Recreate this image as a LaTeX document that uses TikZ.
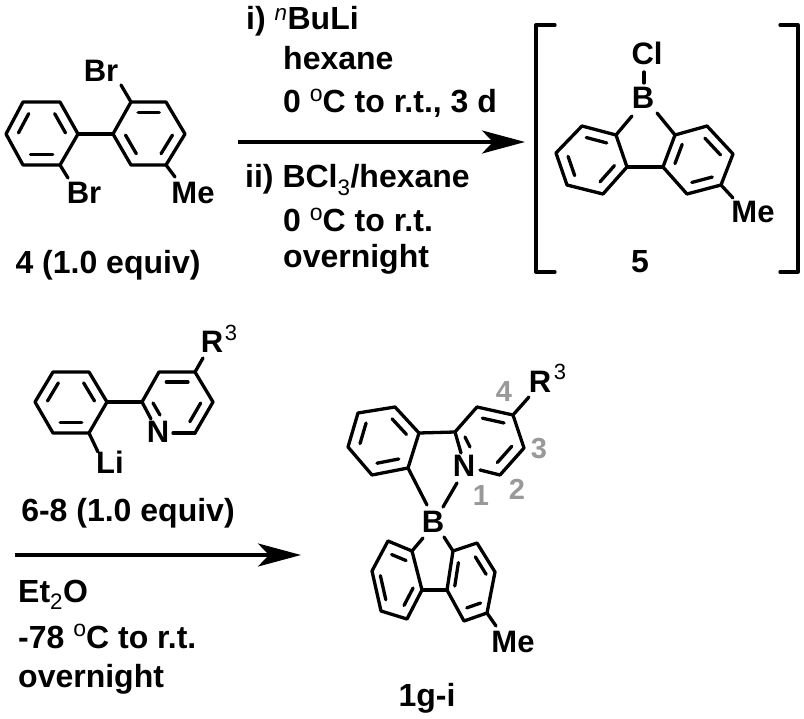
\documentclass[tikz,border=0pt]{standalone}
\usepackage{fontspec}
\setmainfont{Liberation Sans}
\usetikzlibrary{calc,arrows.meta}
\definecolor{numgray}{gray}{0.6}
\tikzset{
  bond/.style={line width=3.3pt,line cap=round,line join=round,black},
  atom/.style={font=\fontsize{31}{31}\selectfont\bfseries,inner sep=0pt,anchor=center},
  sup3/.style={font=\fontsize{22}{22}\selectfont,inner sep=0pt,anchor=center},
  txt/.style={font=\fontsize{32}{32}\selectfont\bfseries,inner sep=0pt,anchor=base west},
  cpd/.style={font=\fontsize{32}{32}\selectfont\bfseries,inner sep=0pt,anchor=base},
  num/.style={font=\fontsize{29}{29}\selectfont\bfseries,text=numgray,inner sep=0pt,anchor=center},
  rxn/.style={line width=3.6pt,-{Stealth[length=43pt,width=23pt,inset=11pt]}},
}
\newcommand{\dbl}[3]{\draw[bond] ($(#1)!.05!(#2)!.33!(#3)$) -- ($(#2)!.05!(#1)!.33!(#3)$);}
\newcommand{\ringsix}[8]{% prefix, six vertices, then double-bond list handled by caller
  \coordinate (#1a) at #2; \coordinate (#1b) at #3; \coordinate (#1c) at #4;
  \coordinate (#1d) at #5; \coordinate (#1e) at #6; \coordinate (#1f) at #7;
  \coordinate (#1o) at ($(#1a)!.5!(#1d)$);
  #8}
\newcommand{\degsup}{\raisebox{.36em}{\fontsize{23}{23}\selectfont\mdseries o}}
\begin{document}
\begin{tikzpicture}[x=1pt,y=-1pt]
\useasboundingbox (0,0) rectangle (804,719);
\fill[white] (0,0) rectangle (804,719);

% ---- compound 4
\ringsix{A}{(6,134)}{(23,102)}{(60,102)}{(78,134)}{(60,165)}{(23,165)}{
  \draw[bond] (Aa)--(Ab)--(Ac)--(Ad)--(Ae)--(Af)--cycle;
  \dbl{Aa}{Ab}{Ao}\dbl{Ac}{Ad}{Ao}\dbl{Ae}{Af}{Ao}}
\ringsix{B}{(113,134)}{(131,102)}{(166,102)}{(185,134)}{(166,165)}{(131,165)}{
  \draw[bond] (Ba)--(Bb)--(Bc)--(Bd)--(Be)--(Bf)--cycle;
  \dbl{Bb}{Bc}{Bo}\dbl{Bd}{Be}{Bo}\dbl{Bf}{Ba}{Bo}}
\draw[bond] (Ad)--(Ba);
\node[atom] (brT) at (101,71) {Br};
\node[atom] (brB) at (84,193) {Br};
\node[atom] (meA) at (193,193) {Me};
\coordinate (brTe) at (121,85); \coordinate (brBe) at (68,178); \coordinate (meAe) at (175,177);
\draw[bond] (Bb)--(brTe); \draw[bond] (Ae)--(brBe); \draw[bond] (Be)--(meAe);
\node[cpd] (lab4) at (108,274) {4 (1.0 equiv)};

% ---- reaction 1 arrow and conditions
\coordinate (arr1s) at (238,142); \coordinate (arr1e) at (525,142);
\draw[rxn] (arr1s)--(arr1e);
\node[txt] (t1) at (246,30) {i) \textsuperscript{\mdseries\textit{n}}BuLi};
\node[txt] (t2) at (283,70) {hexane};
\node[txt] (t3) at (283,113) {0 \degsup C to r.t., 3 d};
\node[txt] (t4) at (245,188) {ii) BCl\textsubscript{\mdseries 3}/hexane};
\node[txt] (t5) at (283,232) {0 \degsup C to r.t.};
\node[txt] (t6) at (283,268) {overnight};

% ---- compound 5
\ringsix{C}{(556,153)}{(582,126)}{(616,135)}{(627,167)}{(603,194)}{(567,185)}{
  \draw[bond] (Ca)--(Cb)--(Cc)--(Cd)--(Ce)--(Cf)--cycle;
  \dbl{Cb}{Cc}{Co}\dbl{Ca}{Cf}{Co}\dbl{Cd}{Ce}{Co}}
\ringsix{D}{(675,135)}{(707,126)}{(733,154)}{(721,185)}{(687,194)}{(663,167)}{
  \draw[bond] (Da)--(Db)--(Dc)--(Dd)--(De)--(Df)--cycle;
  \dbl{Da}{Df}{Do}\dbl{Db}{Dc}{Do}\dbl{Dd}{De}{Do}}
\draw[bond] (Cd)--(Df);
\node[atom] (bC) at (643,98) {B};
\node[atom] (cl) at (647,53) {Cl};
\node[atom] (meC) at (753,212) {Me};
\coordinate (bCa) at (632,116); \coordinate (bCb) at (657,113);
\coordinate (bCc) at (644,83); \coordinate (clE) at (644,72); \coordinate (meCe) at (733,198);
\draw[bond] (Cc)--(bCa); \draw[bond] (Da)--(bCb); \draw[bond] (bCc)--(clE); \draw[bond] (Dd)--(meCe);
\node[cpd] (lab5) at (640,273) {5};
\coordinate (bl1) at (555,25); \coordinate (bl2) at (536,25); \coordinate (bl3) at (536,272); \coordinate (bl4) at (555,272);
\coordinate (br1) at (780,25); \coordinate (br2) at (798,25); \coordinate (br3) at (798,272); \coordinate (br4) at (780,272);
\draw[bond] (bl1)--(bl2)--(bl3)--(bl4);
\draw[bond] (br1)--(br2)--(br3)--(br4);

% ---- compounds 6-8
\ringsix{E}{(35,402)}{(53,372)}{(89,372)}{(107,402)}{(89,433)}{(53,433)}{
  \draw[bond] (Ea)--(Eb)--(Ec)--(Ed)--(Ee)--(Ef)--cycle;
  \dbl{Ea}{Eb}{Eo}\dbl{Ec}{Ed}{Eo}\dbl{Ee}{Ef}{Eo}}
\ringsix{F}{(142,402)}{(159,372)}{(195,372)}{(213,402)}{(195,433)}{(158,433)}{
  \draw[bond] (Fd)--(Fc)--(Fb)--(Fa);
  \draw[bond] (Fd)--(Fe);
  \dbl{Fb}{Fc}{Fo}\dbl{Fd}{Fe}{Fo}}
\draw[bond] (Ed)--(Fa);
\node[atom] (nF) at (158,432) {N};
\node[atom] (rF) at (212,342) {R};
\node[sup3] (rF3) at (231,333) {3};
\node[atom] (li) at (110,462) {Li};
\coordinate (nFa) at (151,419); \coordinate (nFb) at (173,433);
\coordinate (fda) at (153,403); \coordinate (fdb) at (160,415);
\coordinate (rFe) at (203,358); \coordinate (liE) at (98,452);
\draw[bond] (Fa)--(nFa); \draw[bond] (Fe)--(nFb); \draw[bond] (fda)--(fdb);
\draw[bond] (Fc)--(rFe); \draw[bond] (Ee)--(liE);
\node[cpd] (lab6) at (128,521) {6-8 (1.0 equiv)};

% ---- reaction 2 arrow and conditions
\coordinate (arr2s) at (15,555); \coordinate (arr2e) at (301,555);
\draw[rxn] (arr2s)--(arr2e);
\node[txt] (u1) at (18,602) {Et\textsubscript{\mdseries 2}O};
\node[txt] (u2) at (18,648) {-78 \degsup C to r.t.};
\node[txt] (u3) at (18,687) {overnight};

% ---- product 1g-i
\ringsix{G}{(348,447)}{(358,413)}{(395,407)}{(419,433)}{(408,468)}{(372,475)}{
  \draw[bond] (Ga)--(Gb)--(Gc)--(Gd)--(Ge)--(Gf)--cycle;
  \dbl{Ga}{Gb}{Go}\dbl{Gc}{Gd}{Go}\dbl{Ge}{Gf}{Go}}
\ringsix{H}{(455,432)}{(477,407)}{(513,415)}{(524,448)}{(500,475)}{(464,467)}{
  \draw[bond] (Ha)--(Hb)--(Hc)--(Hd)--(He);
  \dbl{Hb}{Hc}{Ho}\dbl{Hd}{He}{Ho}}
\draw[bond] (Gd)--(Ha);
\node[atom] (nH) at (464,466) {N};
\node[atom] (bH) at (433,522) {B};
\node[atom] (rH) at (540,382) {R};
\node[sup3] (rH3) at (560,372) {3};
\node[atom] (meH) at (513,642) {Me};
\node[num] (n4) at (504,392) {4};
\node[num] (n3) at (539,449) {3};
\node[num] (n2) at (517,489) {2};
\node[num] (n1) at (481,496) {1};
\coordinate (haN) at (461,453); \coordinate (heN) at (480,470);
\coordinate (hda) at (465,437); \coordinate (hdb) at (470,447);
\coordinate (rHe) at (529,397);
\coordinate (bHa) at (427,505); \coordinate (bHn) at (443,507); \coordinate (nHb) at (457,483);
\draw[bond] (Ha)--(haN); \draw[bond] (He)--(heN); \draw[bond] (hda)--(hdb);
\draw[bond] (Hc)--(rHe); \draw[bond] (Ge)--(bHa); \draw[bond] (nHb)--(bHn);
\ringsix{I}{(412,551)}{(388,541)}{(372,571)}{(381,611)}{(407,619)}{(422,590)}{
  \draw[bond] (Ia)--(Ib)--(Ic)--(Id)--(Ie)--(If)--cycle;
  \dbl{Ia}{Ib}{Io}\dbl{Ic}{Id}{Io}\dbl{Ie}{If}{Io}}
\ringsix{J}{(453,551)}{(477,543)}{(495,572)}{(487,613)}{(464,621)}{(447,590)}{
  \draw[bond] (Ja)--(Jb)--(Jc)--(Jd)--(Je)--(Jf)--cycle;
  \dbl{Ja}{Jf}{Jo}\dbl{Jb}{Jc}{Jo}\dbl{Jd}{Je}{Jo}}
\draw[bond] (If)--(Jf);
\coordinate (bIa) at (423,538); \coordinate (bJa) at (444,537); \coordinate (meHe) at (496,626);
\draw[bond] (Ia)--(bIa); \draw[bond] (Ja)--(bJa); \draw[bond] (Jd)--(meHe);
\node[cpd] (lab1) at (427,706) {1g-i};
\end{tikzpicture}
\end{document}
